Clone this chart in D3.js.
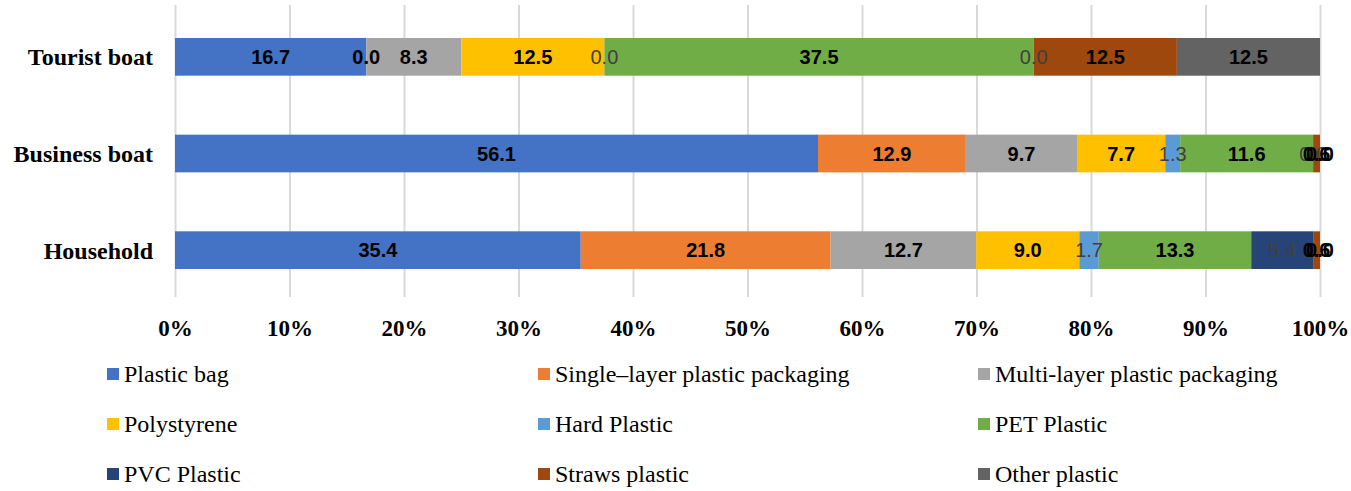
<!DOCTYPE html>
<html>
<head>
<meta charset="utf-8">
<script src="https://cdn.jsdelivr.net/npm/d3@7"></script>
<style>
  body { margin: 0; background: #fff; }
  .cat text { font-family: "Liberation Serif", "Times New Roman", serif; font-weight: bold; font-size: 24px; fill: #000; }
  .xaxis text { font-family: "Liberation Serif", "Times New Roman", serif; font-weight: bold; font-size: 23px; fill: #000; }
  .legend text { font-family: "Liberation Serif", "Times New Roman", serif; font-size: 24px; fill: #000; }
  .lbl { font-family: "Liberation Sans", Arial, sans-serif; font-size: 20px; }
</style>
</head>
<body>
<svg></svg>
<script>
let svgWidth = 1351;
let svgHeight = 491;

// categories, top to bottom
let categories = ["Tourist boat", "Business boat", "Household"];
let seriesNames = ["Plastic bag", "Single\u2013layer plastic packaging", "Multi-layer plastic packaging",
                   "Polystyrene", "Hard Plastic", "PET Plastic",
                   "PVC Plastic", "Straws plastic", "Other plastic"];
let seriesColors = ["#4472C4", "#ED7D31", "#A5A5A5", "#FFC000", "#5B9BD5", "#70AD47", "#264478", "#9E480E", "#636363"];
// labels in dark gray, not bold, for these series
let lightLabel = [false, false, false, false, true, false, true, false, false];

// values per series: [Tourist boat, Business boat, Household]
let plasticBag   = [16.7, 56.1, 35.4];
let singleLayer  = [0.0, 12.9, 21.8];
let multiLayer   = [8.3, 9.7, 12.7];
let polystyrene  = [12.5, 7.7, 9.0];
let hardPlastic  = [0.0, 1.3, 1.7];
let petPlastic   = [37.5, 11.6, 13.3];
let pvcPlastic   = [0.0, 0.0, 5.4];
let strawsPlastic = [12.5, 0.6, 0.6];
let otherPlastic = [12.5, 0.0, 0.0];
let xTicks = [0, 0.1, 0.2, 0.3, 0.4, 0.5, 0.6, 0.7, 0.8, 0.9, 1.0];

let allSeries = [plasticBag, singleLayer, multiLayer, polystyrene, hardPlastic, petPlastic, pvcPlastic, strawsPlastic, otherPlastic];

let svg = d3.select('svg').attr('width', svgWidth).attr('height', svgHeight);

let xScale = d3.scaleLinear().domain([0, 1]).range([175, 1320]);
let yScale = d3.scaleBand().domain(categories).range([9, 298]).paddingInner(0.61).paddingOuter(0.3);

// grid lines via axis
let x_axis = d3.axisBottom(xScale).tickValues(xTicks)
    .tickSizeInner(-(297 - 5))
    .tickSizeOuter(0)
    .tickPadding(19)
    .tickFormat(d3.format(".0%"));
let gx = svg.append('g').attr('class', 'xaxis').attr('transform', 'translate(0,297)').call(x_axis);
gx.select('.domain').remove();
gx.selectAll('line').attr('stroke', '#d9d9d9').attr('stroke-width', 2);
gx.selectAll('text').attr('dy', '0.85em');

// stacked rows
let rows = categories.map(function(c, ci) {
    let row = {cat: c};
    seriesNames.forEach(function(s, si) { row[s] = allSeries[si][ci]; });
    return row;
});
let stacked = d3.stack().keys(seriesNames)(rows);

// totals per category to normalise to 100%
let totals = categories.map(function(c, ci) {
    return d3.sum(allSeries, function(s) { return s[ci]; });
});

let bars = svg.append('g');
stacked.forEach(function(layer, si) {
    layer.forEach(function(d, ci) {
        let t = totals[ci];
        bars.append('rect')
            .attr('x', xScale(d[0] / t))
            .attr('y', yScale(categories[ci]))
            .attr('width', xScale(d[1] / t) - xScale(d[0] / t))
            .attr('height', yScale.bandwidth())
            .attr('fill', seriesColors[si]);
    });
});

let labels = svg.append('g');
stacked.forEach(function(layer, si) {
    layer.forEach(function(d, ci) {
        let t = totals[ci];
        labels.append('text')
            .attr('class', 'lbl')
            .attr('x', xScale((d[0] + d[1]) / 2 / t))
            .attr('y', yScale(categories[ci]) + yScale.bandwidth() / 2)
            .attr('dy', '0.36em')
            .attr('text-anchor', 'middle')
            .attr('font-weight', lightLabel[si] ? 'normal' : 'bold')
            .attr('fill', lightLabel[si] ? '#404040' : '#000')
            .text(d3.format(".1f")(allSeries[si][ci]));
    });
});

// category labels
let cat = svg.append('g').attr('class', 'cat');
categories.forEach(function(c) {
    cat.append('text')
        .attr('x', 153)
        .attr('y', yScale(c) + yScale.bandwidth() / 2)
        .attr('dy', '0.35em')
        .attr('text-anchor', 'end')
        .text(c);
});

// legend: 3 columns, 3 rows
let legend = svg.append('g').attr('class', 'legend');
let colX = [107, 538, 978];
let rowY = [374, 424, 474];
seriesNames.forEach(function(s, i) {
    let gx = colX[i % 3];
    let gy = rowY[Math.floor(i / 3)];
    legend.append('rect')
        .attr('x', gx).attr('y', gy - 6)
        .attr('width', 12).attr('height', 12)
        .attr('fill', seriesColors[i]);
    legend.append('text')
        .attr('x', gx + 17).attr('y', gy)
        .attr('dy', '0.35em')
        .text(s);
});
</script>
</body>
</html>
